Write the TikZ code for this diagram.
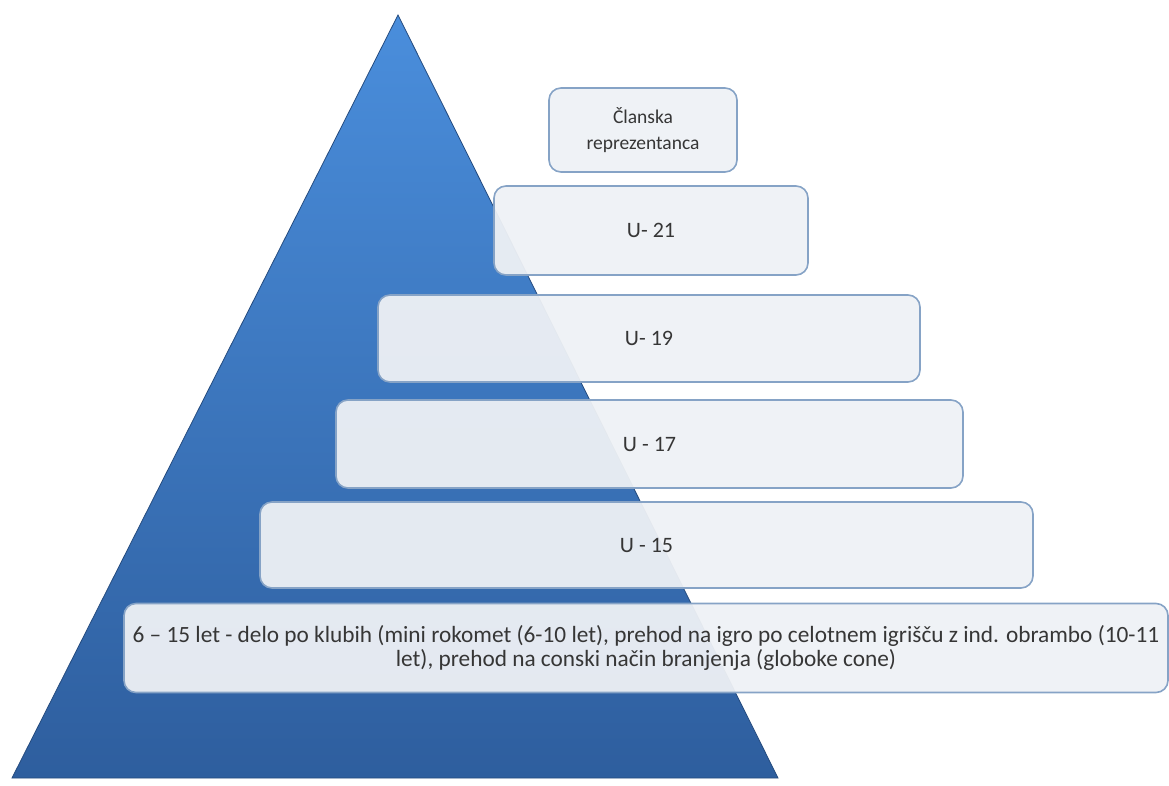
\documentclass[tikz,border=0pt]{standalone}
\usepackage{fontspec}
\setmainfont{Carlito}
\definecolor{triTop}{HTML}{4A8EDC}
\definecolor{triBot}{HTML}{2E5E9E}
\definecolor{boxFill}{HTML}{EEF1F5}
\definecolor{boxLine}{HTML}{86A3C6}
\definecolor{txt}{HTML}{363636}
\begin{document}
\begin{tikzpicture}[x=1pt,y=-1pt,
  tier/.style={draw=boxLine, line width=1.6pt, fill=boxFill, fill opacity=0.95, text opacity=1,
    rounded corners=12pt, text=txt, align=center, inner sep=0pt},
  ulabel/.style={font=\fontsize{22}{26}\selectfont},
]
\useasboundingbox (0,0) rectangle (1169,785);
\shade[top color=triTop, bottom color=triBot, draw=triBot!80!black, line width=0.8pt]
  (398,15) -- (778,778) -- (12,778) -- cycle;
\node[tier, minimum width=188pt, minimum height=84pt, font=\fontsize{19.5}{26}\selectfont] (clan) at (643,130) {Članska\\reprezentanca};
\node[tier, ulabel, minimum width=314pt, minimum height=89pt] (u21) at (651,230.5) {U- 21};
\node[tier, ulabel, minimum width=542pt, minimum height=87pt] (u19) at (649,338.5) {U- 19};
\node[tier, ulabel, minimum width=627pt, minimum height=88pt] (u17) at (649.5,444) {U - 17};
\node[tier, ulabel, minimum width=773pt, minimum height=86pt] (u15) at (646.5,545) {U - 15};
\node[tier, minimum width=1044pt, minimum height=89pt, font=\fontsize{23.3}{24.5}\selectfont] (base) at (646,648)
  {6 – 15 let - delo po klubih (mini rokomet (6-10 let), prehod na igro po celotnem igrišču z ind. obrambo (10-11\\let), prehod na conski način branjenja (globoke cone)};
\end{tikzpicture}
\end{document}
